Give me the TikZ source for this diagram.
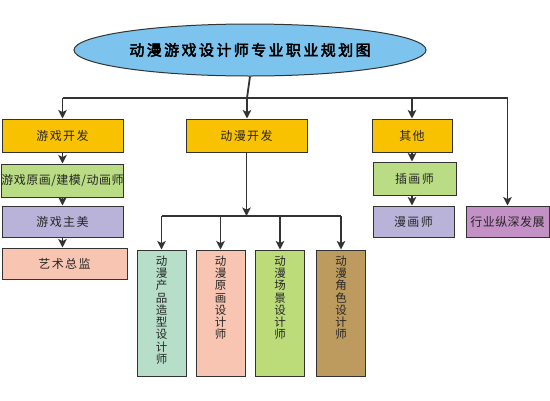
\documentclass[tikz,border=0pt]{standalone}
\usepackage{fontspec}
\newfontfamily\cjk[LetterSpace=12]{Noto Sans CJK SC}
\newfontfamily\cjkbold[LetterSpace=16,FakeBold=3]{Noto Sans CJK SC}
\usetikzlibrary{arrows.meta,shapes.geometric}
\definecolor{ellblue}{HTML}{7CC4EE}
\definecolor{gold}{HTML}{F9C200}
\definecolor{lgreen}{HTML}{B9DC84}
\definecolor{lav}{HTML}{B9B2D9}
\definecolor{peach}{HTML}{F7C5B1}
\definecolor{mint}{HTML}{B6DEC9}
\definecolor{grn}{HTML}{BCDB79}
\definecolor{tan}{HTML}{BD9B5F}
\definecolor{orchid}{HTML}{C491C6}
\definecolor{edge}{HTML}{333333}
\tikzset{
  box/.style={draw=edge, line width=1pt, inner sep=0pt, font=\cjk\fontsize{12}{14}\selectfont, text=black!85},
  vbox/.style={box, minimum width=49, minimum height=126},
  conn/.style={draw=edge, line width=1.8pt},
  arr/.style={conn, -{Stealth[length=8.5pt,width=8.5pt,inset=2pt]}},
}
\begin{document}
\begin{tikzpicture}[x=1pt,y=-1pt]
\useasboundingbox (0,0) rectangle (550,400);
\fill[white] (0,0) rectangle (550,400);
% title
\node[ellipse, draw=edge, line width=1pt, fill=ellblue, minimum width=352, minimum height=52, inner sep=0pt, font=\cjkbold\fontsize{15}{17}\selectfont] (title) at (250,50) {动漫游戏设计师专业职业规划图};
% top level
\node[box, fill=gold, minimum width=121, minimum height=33] (g1) at (62.5,135.5) {游戏开发};
\node[box, fill=gold, minimum width=121, minimum height=33] (a1) at (246.5,135.5) {动漫开发};
\node[box, fill=gold, minimum width=80, minimum height=33] (o1) at (412,135.5) {其他};
% left column
\node[box, fill=lgreen, minimum width=121, minimum height=33] (g2) at (62.5,180.5) {\addfontfeature{LetterSpace=4}游戏原画/建模/动画师};
\node[box, fill=lav, minimum width=121, minimum height=31] (g3) at (62.5,221.5) {游戏主美};
\node[box, fill=peach, minimum width=125, minimum height=31] (g4) at (64.5,263.5) {艺术总监};
% right
\node[box, fill=lgreen, minimum width=83, minimum height=33] (o2) at (414.5,178.5) {插画师};
\node[box, fill=lav, minimum width=81, minimum height=31] (o3) at (413.5,221.5) {漫画师};
\node[box, fill=orchid, minimum width=83, minimum height=31] (r) at (507.5,221.5) {\addfontfeature{LetterSpace=4}行业纵深发展};
% lower boxes
\node[vbox, fill=mint] (b1) at (161.5,313) {};
\node[vbox, fill=peach] (b2) at (220.5,313) {};
\node[vbox, fill=grn] (b3) at (280,313) {};
\node[vbox, fill=tan] (b4) at (341,313) {};
\tikzset{vtext/.style={anchor=north, align=center, inner sep=0pt, font=\cjk\fontsize{11.5}{12.3}\selectfont, text=black!85}}
\node[vtext] (t1) at ([yshift=-6]b1.north) {动\\漫\\产\\品\\造\\型\\设\\计\\师};
\node[vtext] (t2) at ([yshift=-6]b2.north) {动\\漫\\原\\画\\设\\计\\师};
\node[vtext] (t3) at ([yshift=-6]b3.north) {动\\漫\\场\\景\\设\\计\\师};
\node[vtext] (t4) at ([yshift=-6]b4.north) {动\\漫\\角\\色\\设\\计\\师};
% top bus
\coordinate (bus) at (247,98);
\draw[conn] (title.south) -- (bus);
\draw[conn] (g1.north |- bus) -- (r.north |- bus);
\draw[arr] (g1.north |- bus) -- (g1.north);
\draw[arr] (bus) -- (bus |- a1.north);
\draw[arr] (o1.north |- bus) -- (o1.north);
\draw[arr] (r.north |- bus) -- (r.north);
% left chain
\draw[arr] (g1.south) -- (g2.north);
\draw[arr] (g2.south) -- (g3.north);
\draw[arr] (g3.south) -- (g3.south |- g4.north);
% other chain
\draw[arr] (o1.south) -- (o1.south |- o2.north);
\draw[arr] (o1.south |- o2.south) -- (o1.south |- o3.north);
% anime bus
\coordinate (abus) at (246,216);
\draw[arr] (a1.south) -- (a1.south |- abus);
\draw[conn] (b1.north |- abus) -- (b4.north |- abus);
\draw[arr] (b1.north |- abus) -- (b1.north);
\draw[arr] (b2.north |- abus) -- (b2.north);
\draw[arr] (b3.north |- abus) -- (b3.north);
\draw[arr] (b4.north |- abus) -- (b4.north);
\end{tikzpicture}
\end{document}
